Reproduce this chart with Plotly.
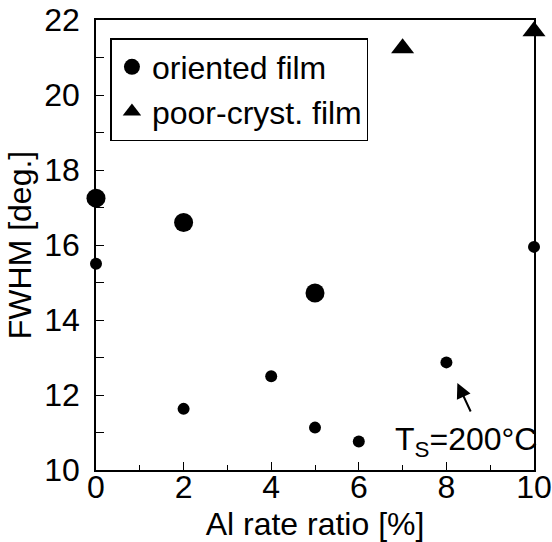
import plotly.graph_objects as go

# Data
oriented_x = [0, 2, 5]
oriented_y = [17.25, 16.6, 14.72]

poor_x = [7, 10]
poor_y = [21.25, 21.7]

ts200_x = [0, 2, 4, 5, 6, 8, 10]
ts200_y = [15.5, 11.63, 12.5, 11.13, 10.76, 12.87, 15.95]

x_ticks = [0, 2, 4, 6, 8, 10]
y_ticks = [10, 12, 14, 16, 18, 20, 22]

FONT = "Liberation Sans, Arial, sans-serif"
FS = 32

fig = go.Figure()
fig.add_trace(go.Scatter(x=oriented_x, y=oriented_y, mode="markers", name="oriented film",
                         marker=dict(symbol="circle", size=19, color="black"), cliponaxis=False))
fig.add_trace(go.Scatter(x=poor_x, y=poor_y, mode="markers", name="poor-cryst. film",
                         marker=dict(symbol="triangle-up", size=20, color="black"), cliponaxis=False))
fig.add_trace(go.Scatter(x=ts200_x, y=ts200_y, mode="markers", name="Ts=200°C", showlegend=False,
                         marker=dict(symbol="circle", size=12, color="black"), cliponaxis=False))

axis_common = dict(showgrid=False, zeroline=False, showline=True, linecolor="black", linewidth=1.5,
                   mirror=True, ticks="inside", ticklen=8, tickwidth=1.2, tickcolor="black",
                   automargin=False, ticklabeloverflow="allow",
                   tickfont=dict(family=FONT, size=FS, color="black"))

fig.update_xaxes(range=[0, 10], tickvals=x_ticks, ticktext=[str(v) for v in x_ticks],
                 minor=dict(dtick=1, ticks="inside", ticklen=5, tickcolor="black"),
                 ticklabelstandoff=-12,
                 title=dict(text="Al rate ratio [%]", font=dict(family=FONT, size=FS, color="black"), standoff=10),
                 **axis_common)
fig.update_yaxes(range=[10, 22], tickvals=y_ticks, ticktext=[str(v) for v in y_ticks],
                 minor=dict(dtick=1, ticks="inside", ticklen=8, tickcolor="black"),
                 ticklabelstandoff=8,
                 title=dict(text="FWHM [deg.]", font=dict(family=FONT, size=FS, color="black"), standoff=3),
                 **axis_common)

fig.add_annotation(x=6.78, y=10.77, xref="x", yref="y", text="T<sub>S</sub>=200°C", showarrow=False,
                   xanchor="left", yanchor="middle", font=dict(family=FONT, size=FS, color="black"))
fig.add_annotation(x=8.25, y=12.32, xref="x", yref="y", ax=8.57, ay=11.52, axref="x", ayref="y",
                   text="", showarrow=True, arrowhead=2, arrowsize=1.5, arrowwidth=2, arrowcolor="black")

fig.update_layout(
    width=552, height=542,
    margin=dict(l=96, r=18, t=20, b=72),
    paper_bgcolor="white", plot_bgcolor="white",
    font=dict(family=FONT, size=FS, color="black"),
    legend=dict(x=0.033, y=0.96, xanchor="left", yanchor="top", bordercolor="black", borderwidth=1.5,
                bgcolor="white", font=dict(family=FONT, size=FS, color="black"),
                tracegroupgap=0, itemwidth=30),
    showlegend=True,
)

fig.write_html("out.html")
